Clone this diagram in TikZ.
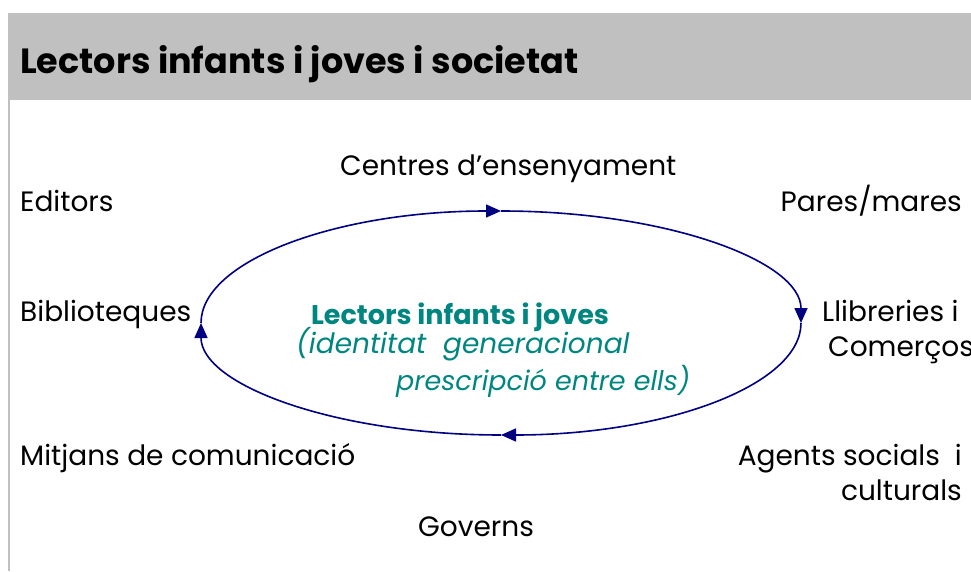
\documentclass[tikz,border=0pt]{standalone}
\usepackage{fontspec}
\setmainfont{Poppins}
\usepackage{tikz}
\usetikzlibrary{arrows.meta}
\definecolor{barGrey}{RGB}{192,192,192}
\definecolor{cycleBlue}{RGB}{0,0,128}
\definecolor{readerTeal}{RGB}{0,134,128}
\tikzstyle{label} = [inner sep=0pt, font=\fontsize{28}{32}\selectfont, text=black]
\tikzstyle{centre} = [inner sep=0pt, text=readerTeal]
\tikzstyle{line} = [draw=cycleBlue, line width=1.6pt,
    -{Triangle[length=15pt, width=13pt]}]

\begin{document}
\begin{tikzpicture}[x=1pt, y=1pt]
      \useasboundingbox (0,0) rectangle (971,571);
      \fill [barGrey] (8,471) rectangle (971,558);
      \draw [barGrey, line width=2pt] (9,471) -- (9,0);
      \node [anchor=base west, inner sep=0pt, font=\fontsize{35}{40}\selectfont\bfseries]
         (title) at (20,497) {Lectors infants i joves i societat};

      \node [label, anchor=base west] (centres) at (340,395) {Centres d’ensenyament};
      \node [label, anchor=base west] (editors) at (20,359) {Editors};
      \node [label, anchor=base east] (pares) at (962,359) {Pares/mares};
      \node [label, anchor=base west] (biblio) at (20,250) {Biblioteques};
      \node [label, anchor=base west] (llibre) at (822,250) {Llibreries i};
      \node [label, anchor=base west] (comerc) at (828,215) {Comerços};
      \node [label, anchor=base west] (mitjans) at (20,106) {Mitjans de comunicació};
      \node [label, anchor=base east] (agents) at (962,106) {Agents socials\ \ i};
      \node [label, anchor=base east] (cultur) at (962,71) {culturals};
      \node [label, anchor=base west] (governs) at (418,35) {Governs};

      \node [centre, anchor=base, font=\fontsize{27}{30}\selectfont\bfseries]
         (lectors) at (460,247) {Lectors infants i joves};
      \node [centre, anchor=base west, font=\fontsize{28}{32}\selectfont\itshape]
         (ident) at (296,218) {(identitat\ \ generacional};
      \node [centre, anchor=base west, font=\fontsize{27}{32}\selectfont\itshape]
         (presc) at (396,181) {prescripció entre ells)};

      % cicle al voltant dels lectors
      \coordinate (west) at (201,248);
      \coordinate (north) at (501,360);
      \coordinate (east) at (801,248);
      \coordinate (south) at (501,136);
      \path [line] (west) arc [start angle=180, end angle=90, x radius=300, y radius=112];
      \path [line] (north) arc [start angle=90, end angle=0, x radius=300, y radius=112];
      \path [line] (east) arc [start angle=0, end angle=-90, x radius=300, y radius=112];
      \path [line] (south) arc [start angle=270, end angle=180, x radius=300, y radius=112];
\end{tikzpicture}
\end{document}
